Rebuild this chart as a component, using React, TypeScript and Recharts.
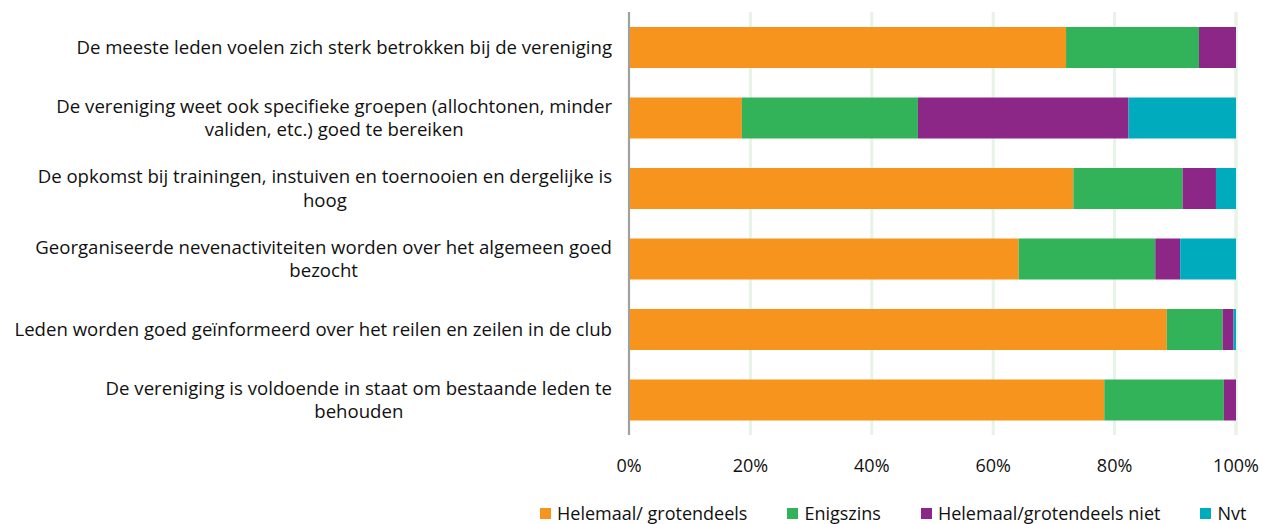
import React from 'react';
import { BarChart, Bar, XAxis, YAxis, CartesianGrid, Legend } from 'recharts';

const categories: string[][] = [
  ['De meeste leden voelen zich sterk betrokken bij de vereniging'],
  ['De vereniging weet ook specifieke groepen (allochtonen, minder', 'validen, etc.) goed te bereiken'],
  ['De opkomst bij trainingen, instuiven en toernooien en dergelijke is', 'hoog'],
  ['Georganiseerde nevenactiviteiten worden over het algemeen goed', 'bezocht'],
  ['Leden worden goed geïnformeerd over het reilen en zeilen in de club'],
  ['De vereniging is voldoende in staat om bestaande leden te', 'behouden'],
];

const helemaal = [72.0, 18.6, 73.2, 64.2, 88.6, 78.3];
const enigszins = [21.9, 29.0, 18.0, 22.5, 9.2, 19.7];
const niet = [6.1, 34.7, 5.5, 4.1, 1.8, 2.0];
const nvt = [0, 17.7, 3.3, 9.2, 0.4, 0];

const xTicks = [0, 20, 40, 60, 80, 100];
const seriesKeys = ['helemaal', 'enigszins', 'niet', 'nvt'];
const seriesNames = ['Helemaal/ grotendeels', 'Enigszins', 'Helemaal/grotendeels niet', 'Nvt'];
const seriesColors = ['#F7941E', '#32B35A', '#8C2787', '#00ABBE'];

const data = categories.map((lines, i) => ({
  name: lines.join('\n'),
  helemaal: helemaal[i],
  enigszins: enigszins[i],
  niet: niet[i],
  nvt: nvt[i],
}));

const FONT = "'Open Sans', sans-serif";
const FONT_SIZE = 18;
const LABEL_SIZE = 18.6;

let ctx: CanvasRenderingContext2D | null = null;
function measure(t: string): number {
  if (!ctx) ctx = document.createElement('canvas').getContext('2d');
  if (!ctx) return t.length * 8.8;
  ctx.font = `${LABEL_SIZE}px 'Open Sans'`;
  return ctx.measureText(t).width;
}

const YTick = (props: any) => {
  const { x, y, payload } = props;
  const lines = String(payload.value).split('\n');
  const widths = lines.map(measure);
  const maxW = Math.max(...widths);
  const cx = x - maxW / 2;
  const lh = 23.5;
  const start = y - ((lines.length - 1) * lh) / 2;
  return (
    <g>
      {lines.map((l, i) => (
        <text
          key={i}
          x={cx}
          y={start + i * lh}
          dy="0.35em"
          textAnchor="middle"
          fontSize={LABEL_SIZE}
          fontFamily={FONT}
          fill="#111"
        >
          {l}
        </text>
      ))}
    </g>
  );
};

const LegendContent = () => (
  <div style={{ display: 'flex', alignItems: 'center', fontFamily: FONT, fontSize: FONT_SIZE, color: '#111', whiteSpace: 'nowrap' }}>
    {seriesNames.map((n, i) => (
      <div key={n} style={{ display: 'flex', alignItems: 'center', marginRight: 40 }}>
        <span style={{ display: 'inline-block', width: 11, height: 11, background: seriesColors[i], marginRight: 6 }} />
        <span>{n}</span>
      </div>
    ))}
  </div>
);

export default function App() {
  return (
    <div style={{ position: 'absolute', left: 0, top: 0, width: 1263, height: 524, background: '#fff' }}>
      <BarChart
        width={1263}
        height={524}
        data={data}
        layout="vertical"
        margin={{ top: 12, right: 27, bottom: 49, left: 0 }}
      >
        <CartesianGrid horizontal={false} stroke="#E6F3E6" strokeWidth={3} />
        <XAxis
          type="number"
          domain={[0, 100]}
          ticks={xTicks}
          tickFormatter={(v: number) => `${v}%`}
          axisLine={false}
          tickLine={false}
          tickMargin={18}
          height={40}
          interval={0}
          tick={{ fontSize: FONT_SIZE, fontFamily: FONT, fill: '#111' }}
        />
        <YAxis
          type="category"
          dataKey="name"
          width={629}
          axisLine={{ stroke: '#A0A0A0', strokeWidth: 2 }}
          tickLine={false}
          tickMargin={11}
          interval={0}
          tick={<YTick />}
        />
        {seriesKeys.map((k, i) => (
          <Bar
            key={k}
            dataKey={k}
            name={seriesNames[i]}
            stackId="a"
            fill={seriesColors[i]}
            barSize={41}
            isAnimationActive={false}
          />
        ))}
        <Legend
          layout="horizontal"
          verticalAlign="middle"
          align="center"
          content={<LegendContent />}
          wrapperStyle={{ left: 540, top: 501, width: 723, height: 24 }}
        />
      </BarChart>
    </div>
  );
}
